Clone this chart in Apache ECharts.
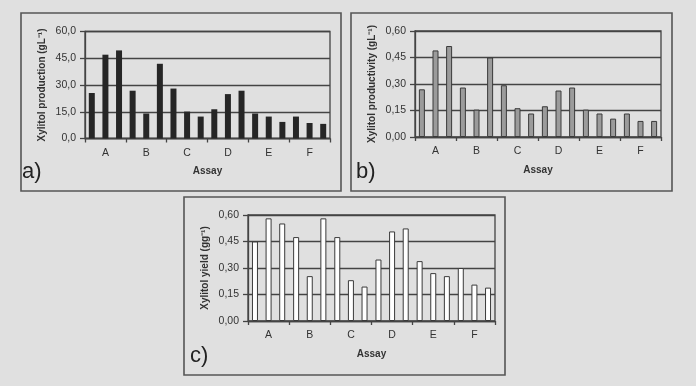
<!DOCTYPE html>
<html><head><meta charset="utf-8">
<script src="https://cdn.jsdelivr.net/npm/echarts@6/dist/echarts.min.js"></script>
<style>html,body{margin:0;padding:0;background:#e0e0e0;}#c{width:696px;height:386px;}</style>
</head><body><div id="c"></div>
<script>
const categories = ['A','B','C','D','E','F'];
// 18 bars, three per assay, in left-to-right order
const production = [25.5,47.0,49.4, 26.8,14.0,41.9, 28.0,15.1,12.3, 16.4,24.9,26.8, 14.0,12.3,9.3, 12.3,8.7,8.2];
const productivity = [0.27,0.49,0.515, 0.28,0.155,0.45, 0.293,0.163,0.133, 0.174,0.263,0.28, 0.155,0.133,0.104, 0.133,0.091,0.091];
const yieldVals = [0.45,0.581,0.552, 0.475,0.254,0.581, 0.475,0.231,0.195, 0.348,0.507,0.524, 0.339,0.271,0.254, 0.30,0.206,0.189];
const yMaxA = 60, yStepA = 15, yDecA = 1;
const yMaxB = 0.6, yStepB = 0.15, yDecB = 2;
const yMaxC = 0.6, yStepC = 0.15, yDecC = 2;
const titles = ['Xylitol production (gL\u207B\u00B9)','Xylitol productivity (gL\u207B\u00B9)','Xylitol yield (gg\u207B\u00B9)'];
const xTitle = 'Assay';
const panelLabels = ['a)','b)','c)'];

const font = 'Liberation Sans, Arial, sans-serif';
const dark = '#444';
const grids = [
  {left:85, top:31.5, width:245, height:107},
  {left:415, top:31, width:246, height:106},
  {left:248, top:215, width:247, height:106}
];
const yCfg = [[yMaxA,yStepA,yDecA],[yMaxB,yStepB,yDecB],[yMaxC,yStepC,yDecC]];
const styles = [
  {color:'#262626', borderColor:'#262626', borderWidth:0},
  {color:'#9b9b9b', borderColor:'#3a3a3a', borderWidth:1},
  {color:'#ffffff', borderColor:'#3a3a3a', borderWidth:1}
];
const datasets = [production, productivity, yieldVals];

const option = {
  backgroundColor:'#e0e0e0',
  animation:false,
  grid: grids.map(g=>Object.assign({show:true, borderColor:dark, borderWidth:1.3, backgroundColor:'transparent'}, g)),
  xAxis: grids.map((g,i)=>({
    type:'category', gridIndex:i, data:categories,
    axisLine:{show:true, lineStyle:{color:dark, width:1.3}},
    axisTick:{show:true, length:4, lineStyle:{color:dark, width:1.3}},
    axisLabel:{color:'#333', fontFamily:font, fontSize:10.5, margin:9},
    name:xTitle, nameLocation:'middle', nameGap:28,
    nameTextStyle:{color:'#333', fontFamily:font, fontSize:10, fontWeight:'bold'}
  })),
  yAxis: grids.map((g,i)=>({
    type:'value', gridIndex:i, min:0, max:yCfg[i][0], interval:yCfg[i][1],
    axisLine:{show:true, lineStyle:{color:dark, width:1.3}},
    axisTick:{show:true, length:5, lineStyle:{color:dark, width:1.3}},
    splitLine:{show:true, lineStyle:{color:dark, width:1.3}},
    axisLabel:{color:'#333', fontFamily:font, fontSize:10.5, margin:9,
      formatter:v=>v.toFixed(yCfg[i][2]).replace('.',',')},
    name:titles[i], nameLocation:'middle', nameGap:38, nameRotate:90,
    nameTextStyle:{color:'#333', fontFamily:font, fontSize:10, fontWeight:'bold'}
  })),
  series: [],
  graphic: [
    {type:'rect', shape:{x:21,y:13,width:320,height:178}, style:{fill:'none', stroke:'#555', lineWidth:1.6}, z:-1},
    {type:'rect', shape:{x:351,y:13,width:321,height:178}, style:{fill:'none', stroke:'#555', lineWidth:1.6}, z:-1},
    {type:'rect', shape:{x:184,y:197,width:321,height:178}, style:{fill:'none', stroke:'#555', lineWidth:1.6}, z:-1},
    {type:'text', left:22, top:161, style:{text:panelLabels[0], fill:'#222', font:'22px Liberation Sans, Arial, sans-serif'}},
    {type:'text', left:356, top:161, style:{text:panelLabels[1], fill:'#222', font:'22px Liberation Sans, Arial, sans-serif'}},
    {type:'text', left:190, top:345, style:{text:panelLabels[2], fill:'#222', font:'22px Liberation Sans, Arial, sans-serif'}}
  ]
};
datasets.forEach((vals,i)=>{
  for(let k=0;k<3;k++){
    option.series.push({
      type:'bar', xAxisIndex:i, yAxisIndex:i,
      data: vals.filter((_,j)=>j%3===k),
      barWidth:6, barGap:'127%',
      itemStyle: styles[i]
    });
  }
});
const chart = echarts.init(document.getElementById('c'), null, {renderer:'canvas'});
chart.setOption(option);
</script></body></html>
